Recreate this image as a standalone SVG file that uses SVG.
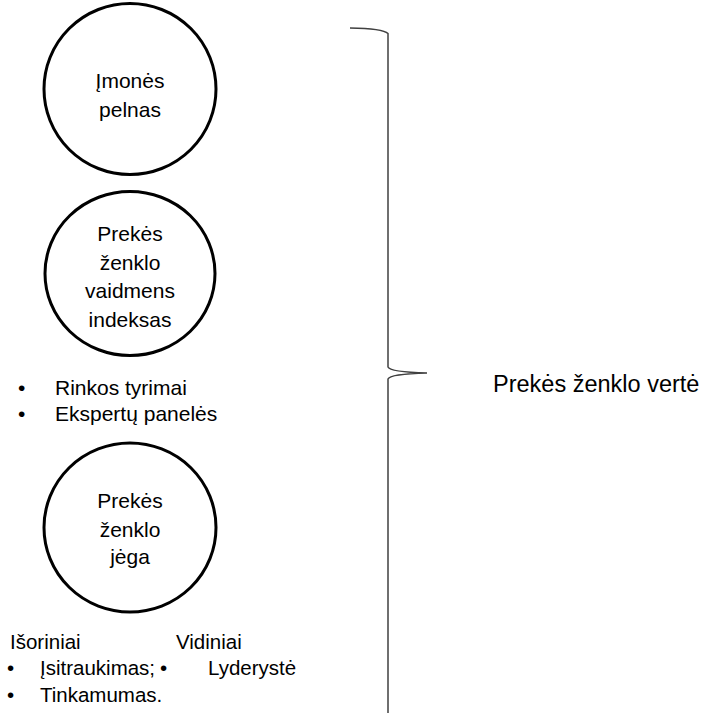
<svg xmlns="http://www.w3.org/2000/svg" width="705" height="713" viewBox="0 0 705 713">
  <style>
    .node circle, .node ellipse { fill: #ffffff; stroke: #000000; stroke-width: 3; }
    text { font-family: "Liberation Sans", Arial, sans-serif; font-size: 21px; fill: #000000; }
    .c { text-anchor: middle; }
    .sm { font-size: 20.5px; }
    .big { font-size: 23.5px; }
    .brace { fill: none; stroke: #404040; stroke-width: 1.5; }
  </style>
  <rect width="705" height="713" fill="#ffffff"/>

  <!-- Circle: company profit -->
  <g id="imones-pelnas" class="node">
    <ellipse cx="130" cy="89" rx="86" ry="85.5"/>
    <text class="c" x="130" y="88">Įmonės</text>
    <text class="c" x="130" y="117">pelnas</text>
  </g>

  <!-- Circle: brand role index -->
  <g id="vaidmens-indeksas" class="node">
    <ellipse cx="130" cy="273.5" rx="85" ry="82"/>
    <text class="c" x="130" y="241">Prekės</text>
    <text class="c" x="130" y="270">ženklo</text>
    <text class="c" x="130" y="298">vaidmens</text>
    <text class="c" x="130" y="327">indeksas</text>
  </g>

  <!-- Methods list -->
  <g id="metodai">
    <text x="18" y="395">•</text>
    <text x="55" y="395">Rinkos tyrimai</text>
    <text x="18" y="421">•</text>
    <text x="55" y="421">Ekspertų panelės</text>
  </g>

  <!-- Circle: brand strength -->
  <g id="zenklo-jega" class="node">
    <ellipse cx="130" cy="527.5" rx="86" ry="84.5"/>
    <text class="c" x="130" y="508">Prekės</text>
    <text class="c" x="130" y="537">ženklo</text>
    <text class="c" x="130" y="564">jėga</text>
  </g>

  <!-- Strength factors -->
  <g id="veiksniai">
    <text class="sm" x="10" y="649">Išoriniai</text>
    <text class="sm" x="176" y="649">Vidiniai</text>
    <text class="sm" x="7" y="675">•</text>
    <text class="sm" x="40" y="675">Įsitraukimas;</text>
    <text class="sm" x="160" y="675">•</text>
    <text class="sm" x="208" y="675">Lyderystė</text>
    <text class="sm" x="7" y="702">•</text>
    <text class="sm" x="40" y="702">Tinkamumas.</text>
  </g>

  <!-- Curly brace grouping the measures -->
  <g id="connectors">
    <path class="brace" d="M350,28 Q383,28.5 388,33.5 L388,367 Q390,372 427,373 Q390,374 388,379 L388,713"/>
  </g>

  <!-- Result label -->
  <g id="zenklo-verte" class="node">
    <text class="big" x="493" y="392">Prekės ženklo vertė</text>
  </g>
</svg>
